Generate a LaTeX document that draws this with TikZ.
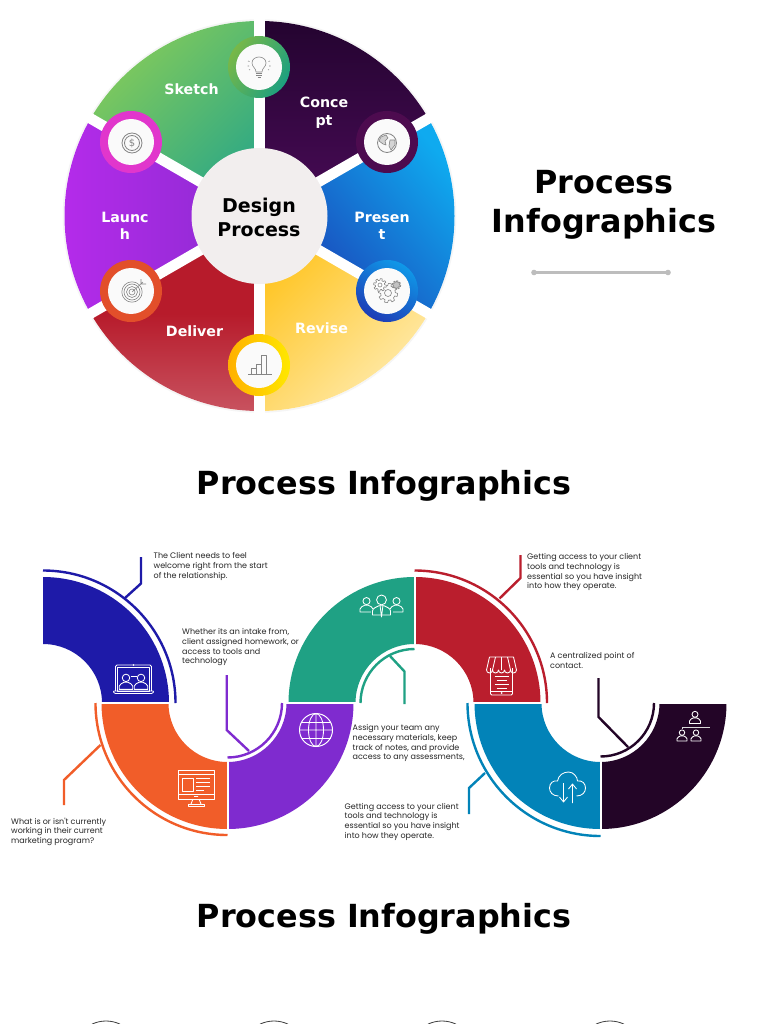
\documentclass[tikz,border=0pt]{standalone}
\usepackage{fontspec}
\setmainfont{DejaVu Sans}
\newfontfamily\smallfont{Poppins}
\usetikzlibrary{calc}
\definecolor{cnavy}{HTML}{1E1AA8}
\definecolor{corange}{HTML}{F15D29}
\definecolor{cpurple}{HTML}{7F2BCF}
\definecolor{cgreen}{HTML}{1FA184}
\definecolor{cred}{HTML}{BA1E2D}
\definecolor{cteal}{HTML}{0283B8}
\definecolor{cdark}{HTML}{230527}
\definecolor{icongray}{HTML}{858585}
\definecolor{sa}{HTML}{240430}\definecolor{sb}{HTML}{4A0B58}
\definecolor{sc}{HTML}{0FAAEF}\definecolor{sd}{HTML}{1C3CB4}
\definecolor{se}{HTML}{FFC31C}\definecolor{sf}{HTML}{FFEBAE}
\definecolor{sg}{HTML}{B71B2B}\definecolor{sh}{HTML}{C8525F}
\definecolor{si}{HTML}{B62BEB}\definecolor{sj}{HTML}{8A2BD0}
\definecolor{sk}{HTML}{84CB5A}\definecolor{sl}{HTML}{2DA885}
\definecolor{hubface}{HTML}{F2EEEE}
\definecolor{ra}{HTML}{78B848}\definecolor{rb}{HTML}{1CA080}
\definecolor{rc}{HTML}{4D0B4F}
\definecolor{rd}{HTML}{0F98E8}\definecolor{re}{HTML}{1E3DB6}
\definecolor{rf}{HTML}{FFB000}\definecolor{rg}{HTML}{FFE800}
\definecolor{rh}{HTML}{E24F2A}\definecolor{ri}{HTML}{E136CC}
\definecolor{rulegray}{HTML}{BDBDBD}
\tikzset{
  wheellabel/.style={text=white,font=\fontsize{14.2}{17}\selectfont\bfseries,inner sep=0pt,align=center},
  hubtext/.style={text=black,font=\fontsize{19}{23}\selectfont\bfseries,inner sep=0pt,align=center},
  bigtitle/.style={text=black,font=\fontsize{31.8}{39}\selectfont\bfseries,inner sep=0pt,align=center},
  note/.style={text=black!85,font=\smallfont\fontsize{8}{9.7}\selectfont,inner sep=0pt,align=left,anchor=north west},
  wicon/.style={draw=white,line width=.85pt,line join=round},
  gicon/.style={draw=icongray,line width=.6pt,line join=round},
  callout/.style={line width=2.4pt,line join=miter},
  iconface/.style={fill=white!96!gray},
}
% quarter ring of the snake: centre, start angle, end angle, colour
\newcommand\rsring[4]{\fill[#4] (#1) ++(#2:126) arc[start angle=#2,end angle=#3,radius=126] -- ($(#1)+(#3:59)$) arc[start angle=#3,end angle=#2,radius=59] -- cycle;}
% wheel sector: start angle, end angle, shading options
\newcommand\rssector[3]{\shade[#3] (hub) ++(#1:195) arc[start angle=#1,end angle=#2,radius=195] -- (hub) -- cycle;}
\newcommand\rsperson[3]{\begin{scope}[shift={(#1,#2)},scale=#3]
  \draw[wicon] (0,-.42) circle[radius=.34];
  \draw[wicon] (-.62,.62) -- (-.62,.34) .. controls (-.6,.12) and (-.35,.1) .. (-.18,-.02) -- (.18,-.02) .. controls (.35,.1) and (.6,.12) .. (.62,.34) -- (.62,.62) -- cycle;
\end{scope}}
\begin{document}
\begin{tikzpicture}[x=1pt,y=-1pt]
\useasboundingbox (0,0) rectangle (768,1024);
\fill[white] (0,0) rectangle (768,1024);
\coordinate (hub) at (259.5,216);
% ---------- wheel
\draw[draw=black!4,line width=1.5pt] (hub) circle[radius=196];
\rssector{-90}{-30}{top color=sa,bottom color=sb}
\rssector{-30}{30}{top color=sc,bottom color=sd,shading angle=-50}
\rssector{30}{90}{top color=se,bottom color=sf,shading angle=45}
\rssector{90}{150}{top color=sg,bottom color=sh,middle color=sg}
\rssector{150}{210}{top color=si,bottom color=sj,shading angle=90}
\rssector{210}{270}{top color=sk,bottom color=sl,shading angle=45}
\foreach \a in {-90,-30,30,90,150,210}{
  \draw[white,line width=10.5pt] (hub) -- ++(\a:199);
}
\node[circle,fill=hubface,minimum size=136pt,inner sep=0pt] (center) at (hub) {};
\node[hubtext] (hubA) at (259,207.5) {Design};
\node[hubtext] (hubB) at (259,230) {Process};
% rings
\shade[top color=ra,bottom color=rb,shading angle=60] (259,67) circle[radius=31];
\fill[iconface] (259,67) circle[radius=23];
\fill[rc] (387,142) circle[radius=31];
\fill[iconface] (387,142) circle[radius=23];
\shade[top color=rd,bottom color=re,shading angle=-30] (387,291) circle[radius=31];
\fill[iconface] (387,291) circle[radius=23];
\shade[top color=rf,bottom color=rg,shading angle=90] (259,365) circle[radius=31];
\fill[iconface] (259,365) circle[radius=23];
\fill[rh] (131,291) circle[radius=31];
\fill[iconface] (131,291) circle[radius=23];
\fill[ri] (131,142) circle[radius=31];
\fill[iconface] (131,142) circle[radius=23];
% bulb
\begin{scope}[shift={(259,67)}]
  \draw[gicon] (-3,5) .. controls (-3,1) and (-7,0) .. (-7,-4) .. controls (-7,-8) and (-3.5,-10) .. (0,-10) .. controls (3.5,-10) and (7,-8) .. (7,-4) .. controls (7,0) and (3,1) .. (3,5) -- cycle;
  \draw[gicon,line width=1pt] (-3,7) -- (3,7) (-3,9) -- (3,9) (-1.5,11) -- (1.5,11);
  \draw[gicon] (-11,-6) -- (-9.5,-5.5) (-11.5,-1) -- (-10,-1) (11,-6) -- (9.5,-5.5) (11.5,-1) -- (10,-1) (-10,3) -- (-9,2.5) (10,3) -- (9,2.5);
\end{scope}
% globe
\begin{scope}[shift={(387,143)}]
  \draw[gicon,line width=.8pt] (0,0) circle[radius=9.5];
  \draw[gicon,fill=icongray!35] (-6,-6) -- (-1,-8) -- (1,-5) -- (-2,-2) -- (-1,2) -- (-4,1) -- (-8,-2) -- cycle;
  \draw[gicon,fill=icongray!35] (3,-3) -- (8,-3) -- (8,2) -- (4,7) -- (2,3) -- cycle;
\end{scope}
% dollar
\begin{scope}[shift={(132,143)}]
  \draw[gicon,line width=.8pt] (0,0) circle[radius=10] (0,0) circle[radius=7.5];
  \node[text=icongray,font=\fontsize{10}{10}\selectfont,inner sep=0pt] (dollar) at (0,0) {\$};
\end{scope}
% target
\begin{scope}[shift={(132,291)}]
  \foreach \r in {3,5.5,8,10.2}{\draw[gicon] (0,1) circle[radius=\r];}
  \draw[gicon] (0,1) -- (11,-9) (9,-12) -- (9,-7) -- (14,-7);
\end{scope}
% gears
\begin{scope}[shift={(388,293)}]\draw[gicon] plot[domain=0:360,samples=121] (\x:{8.5*(1+.14*sign(sin(8*\x)))}) -- cycle; \draw[gicon] (0,0) circle[radius=3.5];\end{scope}
\begin{scope}[shift={(380,285)}]\draw[gicon,fill=white] plot[domain=0:360,samples=121] (\x:{5.5*(1+.16*sign(sin(8*\x)))}) -- cycle; \draw[gicon] (0,0) circle[radius=2];\end{scope}
\begin{scope}[shift={(396.5,285)}]\draw[gicon,fill=icongray!50] plot[domain=0:360,samples=121] (\x:{3.6*(1+.18*sign(sin(8*\x)))}) -- cycle;\end{scope}
% bars
\begin{scope}[shift={(259,365)}]
  \draw[gicon,line width=.8pt] (-11,9) -- (13,9);
  \draw[gicon] (-8,9) -- (-8,3) -- (-3,3) -- (-3,9) (-3,9) -- (-3,-1) -- (2,-1) -- (2,9) (2,9) -- (2,-10) -- (7,-10) -- (7,9);
\end{scope}
% wheel labels
\node[wheellabel] (lsketch) at (191.5,89) {Sketch};
\node[wheellabel] (lconcept) at (324,113) {Conce\\[1.2pt]pt};
\node[wheellabel] (llaunch) at (125,226) {Launc\\[.4pt]h};
\node[wheellabel] (lpresent) at (382,226) {Presen\\[.4pt]t};
\node[wheellabel] (ldeliver) at (194.5,331) {Deliver};
\node[wheellabel] (lrevise) at (321.5,328) {Revise};
% right title
\node[bigtitle] (title1) at (604,205) {Process\\Infographics};
\coordinate (ruleA) at (534,272.5);
\coordinate (ruleB) at (668,272.5);
\draw[rulegray,line width=2.2pt] (ruleA) -- (ruleB);
\fill[rulegray] (ruleA) circle[radius=2.8] (ruleB) circle[radius=2.8];
% titles
\node[bigtitle] (title2) at (384,486) {Process Infographics};
\node[bigtitle] (title3) at (384,919) {Process Infographics};
% ---------- snake
\coordinate (c1) at (43,703);
\coordinate (c2) at (227.5,703);
\coordinate (c3) at (414.5,703);
\coordinate (c4) at (600.5,703);
\rsring{c1}{-90}{0}{cnavy}
\rsring{c2}{90}{180}{corange}
\rsring{c2}{0}{90}{cpurple}
\rsring{c3}{180}{270}{cgreen}
\rsring{c3}{-90}{0}{cred}
\rsring{c4}{90}{180}{cteal}
\rsring{c4}{0}{90}{cdark}
\draw[white,line width=2pt] (40,703) -- (735,703);
\draw[white,line width=2pt] (c2) ++(0,50) -- ++(0,85);
\draw[white,line width=2pt] (c3) ++(0,-135) -- ++(0,85);
\draw[white,line width=2pt] (c4) ++(0,50) -- ++(0,85);
% outer and inner arcs with callouts
\begin{scope}[line cap=butt]
\draw[cnavy,callout] (c1) ++(-90:132.5) arc[start angle=-90,end angle=0,radius=132.5];
\coordinate (a1) at (125,598); \coordinate (b1) at (141,583.5); \coordinate (e1) at (141,557);
\draw[cnavy,callout] (a1) -- (b1) -- (e1);
\draw[corange,callout] (c2) ++(180:132) arc[start angle=180,end angle=90,radius=132];
\coordinate (a2) at (100.5,745); \coordinate (b2) at (64,780); \coordinate (e2) at (64,805);
\draw[corange,callout] (a2) -- (b2) -- (e2);
\draw[cpurple,callout] (c2) ++(0:54.5) arc[start angle=0,end angle=90,radius=54.5];
\coordinate (a3) at (249,751); \coordinate (b3) at (226.7,730); \coordinate (e3) at (226.7,675);
\draw[cpurple,callout] (a3) -- (b3) -- (e3);
\draw[cgreen,callout] (c3) ++(180:54) arc[start angle=180,end angle=270,radius=54];
\coordinate (a4) at (390,656); \coordinate (b4) at (404.5,671.5); \coordinate (e4) at (404.5,704);
\draw[cgreen,callout] (a4) -- (b4) -- (e4);
\draw[cred,callout] (c3) ++(-90:132.5) arc[start angle=-90,end angle=0,radius=132.5];
\coordinate (a5) at (499.5,598.5); \coordinate (b5) at (520.5,578); \coordinate (e5) at (520.5,555);
\draw[cred,callout] (a5) -- (b5) -- (e5);
\draw[cteal,callout] (c4) ++(180:133) arc[start angle=180,end angle=90,radius=133];
\coordinate (a6) at (485,773); \coordinate (b6) at (469,788); \coordinate (e6) at (469,814);
\draw[cteal,callout] (a6) -- (b6) -- (e6);
\draw[cdark,callout] (c4) ++(0:53.5) arc[start angle=0,end angle=90,radius=53.5];
\coordinate (a7) at (628,747); \coordinate (b7) at (598.5,717); \coordinate (e7) at (598.5,678);
\draw[cdark,callout] (a7) -- (b7) -- (e7);
\end{scope}
% notes
\node[note] (n1) at (153.5,552.5) {The Client needs to feel\\welcome right from the start\\of the relationship.};
\node[note] (n2) at (182,628.5) {Whether its an intake from,\\client assigned homework, or\\access to tools and\\technology};
\node[note] (n3) at (11,817.5) {What is or isn't currently\\working in their current\\marketing program?};
\node[note] (n4) at (352.5,724.5) {Assign your team any\\necessary materials, keep\\track of notes, and provide\\access to any assessments,};
\node[note] (n5) at (344.5,803) {Getting access to your client\\tools and technology is\\essential so you have insight\\into how they operate.};
\node[note] (n6) at (527,553.5) {Getting access to your client\\tools and technology is\\essential so you have insight\\into how they operate.};
\node[note] (n7) at (550,652.5) {A centralized point of\\contact.};
% laptop
\begin{scope}[shift={(133.5,680)}]
  \draw[wicon,rounded corners=1.5pt] (-18,11) -- (-18,-15) -- (18,-15) -- (18,11);
  \draw[wicon] (-16,-13) rectangle (16,11);
  \draw[wicon,rounded corners=1pt] (-20.5,11) -- (20.5,11) -- (19,13.5) -- (-19,13.5) -- cycle;
  \rsperson{-7.5}{2.5}{11}
  \rsperson{7.5}{2.5}{11}
  \draw[wicon] (-3,-4) -- (3,-4);
  \fill[white] (0,-15) circle[radius=.9];
\end{scope}
% monitor
\begin{scope}[shift={(196,788)}]
  \draw[wicon] (-18,-18) rectangle (18,11) (-18,-14) -- (18,-14) (-18,6) -- (18,6);
  \draw[wicon] (-14,-10) rectangle (-3,3);
  \draw[wicon] (0,-10) -- (14,-10) (0,-6) -- (14,-6) (0,-2) -- (14,-2) (0,2) -- (8,2);
  \draw[wicon] (-2,8.5) -- (2,8.5) (-3,11) -- (-5,16) (3,11) -- (5,16);
  \draw[wicon] (-8,16) rectangle (8,18);
\end{scope}
% globe
\begin{scope}[shift={(316,730)}]
  \draw[wicon,line width=1pt] (0,0) circle[radius=16.5];
  \draw[wicon] (0,0) ellipse[x radius=7.5,y radius=16.5] (0,-16.5) -- (0,16.5) (-16.5,0) -- (16.5,0);
  \draw[wicon] (-14.5,-8) -- (14.5,-8) (-14.5,8) -- (14.5,8);
\end{scope}
% people
\rsperson{366.5}{605.5}{10.5}
\rsperson{396.5}{605.5}{10.5}
\begin{scope}[shift={(381.5,606)}]
  \fill[cgreen] (-11,3) rectangle (11,14);
  \fill[cgreen] (0,-5) circle[radius=7];
\end{scope}
\rsperson{381.5}{606}{14.5}
\draw[wicon] (380,605) -- (381.5,617) -- (383,605);
% store
\begin{scope}[shift={(501.5,676)}]
  \draw[wicon,rounded corners=1.2pt] (-11,-8) -- (-11,19) -- (11,19) -- (11,-8);
  \draw[wicon] (-11,15) -- (11,15);
  \fill[white] (0,17) circle[radius=1];
  \draw[wicon] (-12,-19) -- (12,-19) -- (15,-6) (-12,-19) -- (-15,-6);
  \draw[wicon] (-15,-6) arc[start angle=180,end angle=0,radius=3] arc[start angle=180,end angle=0,radius=3] arc[start angle=180,end angle=0,radius=3] arc[start angle=180,end angle=0,radius=3] arc[start angle=180,end angle=0,radius=3];
  \draw[wicon] (-6,-19) -- (-9,-6) (0,-19) -- (0,-6) (6,-19) -- (9,-6);
  \draw[wicon] (-7,0) -- (7,0) (-5,4) -- (5,4) (-7,8) -- (7,8) (-5,12) -- (5,12);
\end{scope}
% cloud
\begin{scope}[shift={(567.5,787)}]
  \draw[wicon] (-9,9) .. controls (-15,9) and (-18,5) .. (-18,1) .. controls (-18,-4) and (-14,-7) .. (-10,-6) .. controls (-9,-12) and (-4,-15) .. (1,-15) .. controls (6,-15) and (10,-10) .. (10,-6) .. controls (15,-7) and (18,-3) .. (18,1) .. controls (18,5) and (15,9) .. (9,9);
  \draw[wicon] (-4,-4) -- (-4,15) (-8,10) -- (-4,15) -- (0,10);
  \draw[wicon] (5,16) -- (5,-3) (1,2) -- (5,-3) -- (9,2);
\end{scope}
% org chart
\rsperson{695}{718}{8.8}
\rsperson{682}{736}{8}
\rsperson{696}{736}{8}
\draw[wicon,draw=white!85!black] (682,729) -- (682,727) -- (710,727);
% bottom partial circles
\foreach \x/\n in {106/p1,274/p2,442/p3,610/p4}{
  \coordinate (\n) at (\x,1054);
  \draw[black!75,line width=.8pt] (\n) ++(-115:33) arc[start angle=-115,end angle=-65,radius=33];
}
\end{tikzpicture}
\end{document}
